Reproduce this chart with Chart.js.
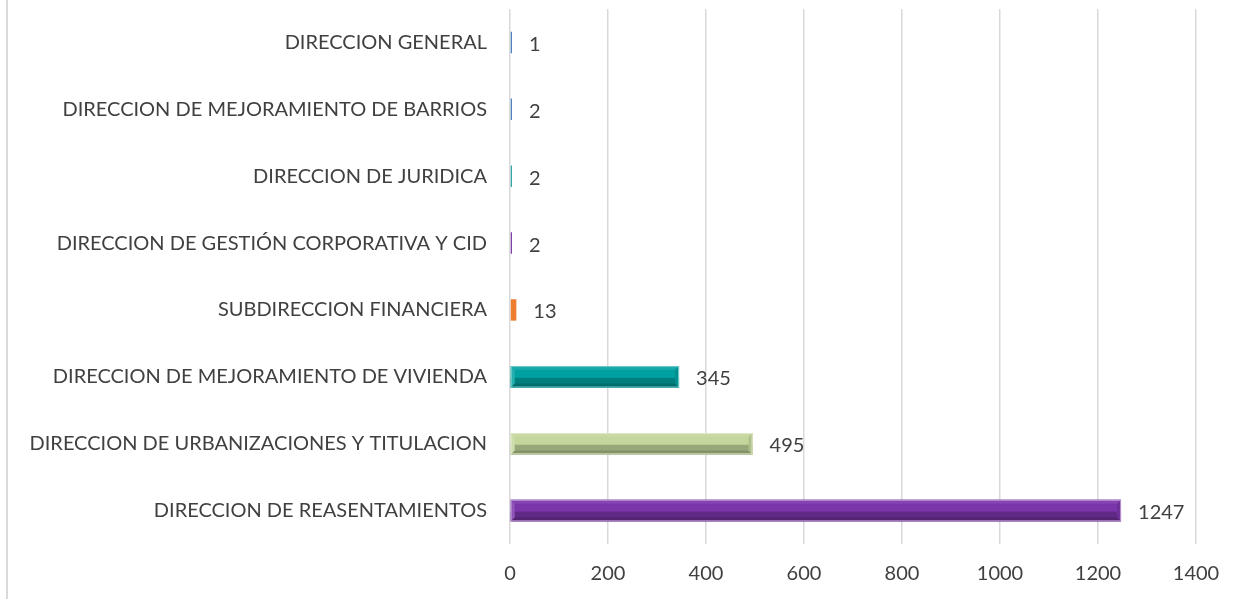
<!DOCTYPE html>
<html>
<head>
<meta charset="utf-8">
<script src="https://cdn.jsdelivr.net/npm/chart.js@4"></script>
<style>
  html, body { margin: 0; padding: 0; background: #fff; overflow: hidden; }
</style>
</head>
<body>
<canvas id="barChart" width="1241" height="599"></canvas>
<script>
// categories top to bottom
const categories = [
    "DIRECCION GENERAL",
    "DIRECCION DE MEJORAMIENTO DE BARRIOS",
    "DIRECCION DE JURIDICA",
    "DIRECCION DE GESTIÓN CORPORATIVA Y CID",
    "SUBDIRECCION FINANCIERA",
    "DIRECCION DE MEJORAMIENTO DE VIVIENDA",
    "DIRECCION DE URBANIZACIONES Y TITULACION",
    "DIRECCION DE REASENTAMIENTOS"
];
const values = [1, 2, 2, 2, 13, 345, 495, 1247];
const xTicks = [0, 200, 400, 600, 800, 1000, 1200, 1400];

const barColors = ["#4f81bd", "#4f81bd", "#31a3a3", "#7e3fa6", "#ed7d31", "#00a0a0", "#c3d69b", "#7a35aa"];
const FONT = "Lato, 'Open Sans', sans-serif";
const FSIZE = 20;
const TEXT = "#404040";

// helper: shade a hex colour
function shade(hex, amt) {
    let n = parseInt(hex.slice(1), 16);
    let r = (n >> 16) & 255, g = (n >> 8) & 255, b = n & 255;
    const f = c => Math.max(0, Math.min(255, Math.round(amt < 0 ? c * (1 + amt) : c + (255 - c) * amt)));
    return "rgb(" + f(r) + "," + f(g) + "," + f(b) + ")";
}

function quad(ctx, pts, color) {
    ctx.fillStyle = color;
    ctx.beginPath();
    ctx.moveTo(pts[0], pts[1]);
    for (let k = 2; k < pts.length; k += 2) ctx.lineTo(pts[k], pts[k + 1]);
    ctx.closePath();
    ctx.fill();
}

// bevel look + value labels
const bevelPlugin = {
    id: "bevel",
    beforeDraw(chart) {
        const ctx = chart.ctx;
        ctx.save();
        ctx.strokeStyle = "#d9d9d9";
        ctx.lineWidth = 2;
        ctx.beginPath();
        ctx.moveTo(7, 0);
        ctx.lineTo(7, chart.height);
        ctx.stroke();
        ctx.restore();
    },
    afterDatasetsDraw(chart) {
        const ctx = chart.ctx;
        const meta = chart.getDatasetMeta(0);
        ctx.save();
        meta.data.forEach((bar, i) => {
            const left = Math.min(bar.x, bar.base);
            const right = Math.max(bar.x, bar.base);
            const top = bar.y - bar.height / 2;
            const h = bar.height;
            const w = right - left;
            const c = barColors[i];
            if (w > 8) {
                const e = 4;
                const bot = top + h;
                // darker lower half
                ctx.fillStyle = shade(c, -0.22);
                ctx.fillRect(left, top + h * 0.55, w, h * 0.45);
                // bottom bevel
                quad(ctx, [left, bot, right, bot, right - e, bot - e, left + e, bot - e], shade(c, -0.32));
                // top bevel
                quad(ctx, [left, top, right, top, right - e, top + e, left + e, top + e], shade(c, 0.08));
                // left bevel
                quad(ctx, [left, top, left + e, top + e, left + e, bot - e, left, bot], shade(c, 0.15));
                // right bevel
                quad(ctx, [right, top, right - e, top + e, right - e, bot - e, right, bot], shade(c, -0.1));
                // light outline
                ctx.strokeStyle = shade(c, 0.45);
                ctx.lineWidth = 1;
                ctx.strokeRect(left + 0.5, top + 0.5, w - 1, h - 1);
            }
            // value label
            ctx.fillStyle = TEXT;
            ctx.font = FSIZE + "px " + FONT;
            ctx.textAlign = "left";
            ctx.textBaseline = "middle";
            ctx.fillText(String(values[i]), right + 17, bar.y + 2);
        });
        ctx.restore();
    }
};

const chart = new Chart(document.getElementById("barChart"), {
    type: "bar",
    data: {
        labels: categories,
        datasets: [{
            data: values,
            backgroundColor: barColors,
            borderWidth: 0,
            categoryPercentage: 1,
            barPercentage: 0.32,
            minBarLength: 2
        }]
    },
    options: {
        indexAxis: "y",
        responsive: false,
        animation: false,
        devicePixelRatio: 1,
        layout: { padding: { top: 9, right: 45, left: 0, bottom: 0 } },
        plugins: {
            legend: { display: false },
            tooltip: { enabled: false }
        },
        scales: {
            x: {
                min: 0,
                max: 1400,
                afterBuildTicks: axis => { axis.ticks = xTicks.map(v => ({ value: v })); },
                afterFit: axis => { axis.height = 55; },
                grid: { color: "#d9d9d9", lineWidth: 1.5, drawTicks: false },
                border: { display: false },
                ticks: {
                    color: TEXT,
                    font: { family: FONT, size: FSIZE },
                    padding: 18,
                    callback: v => String(v)
                }
            },
            y: {
                afterFit: axis => {
                    axis.width = 510;
                    axis.paddingTop = 0;
                    axis.paddingBottom = 0;
                },
                grid: { display: false },
                border: { display: false },
                ticks: { color: TEXT, font: { family: FONT, size: FSIZE }, padding: 15 }
            }
        }
    },
    plugins: [bevelPlugin]
});
</script>
</body>
</html>
